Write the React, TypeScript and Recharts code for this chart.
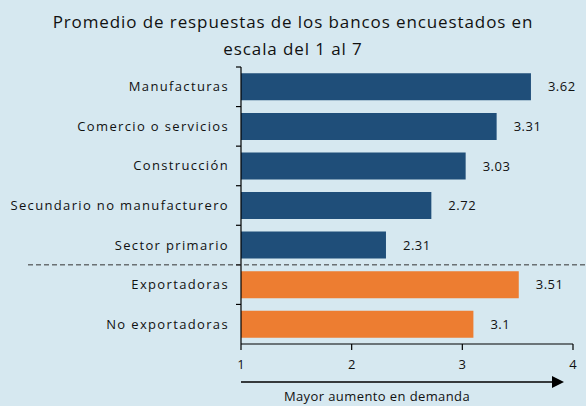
import { BarChart, Bar, XAxis, YAxis, Cell, LabelList } from 'recharts'

const categories = [
  'Manufacturas',
  'Comercio o servicios',
  'Construcción',
  'Secundario no manufacturero',
  'Sector primario',
  'Exportadoras',
  'No exportadoras',
]
const values = [3.62, 3.31, 3.03, 2.72, 2.31, 3.51, 3.1]
const groups = ['sector', 'sector', 'sector', 'sector', 'sector', 'export', 'export']
const xTicks = [1, 2, 3, 4]

const titleLines = ['Promedio de respuestas de los bancos encuestados en', 'escala del 1 al 7']
const xLabel = 'Mayor aumento  en demanda'

const GROUP_COLORS: Record<string, string> = {
  sector: '#1f4e79',
  export: '#ed7d31',
}

const FONT = '"Open Sans", Lato, sans-serif'
const W = 586
const H = 406
const TOP = 67
const BOTTOM = 62
const LEFT = 241
const RIGHT = 13
const BAND = (H - TOP - BOTTOM) / categories.length

const data = categories.map((name, i) => ({ name, value: values[i], group: groups[i] }))

// category label plus a small tick at the upper edge of each band
function CategoryTick(props: any) {
  const { x, y, payload, index } = props
  const half = payload?.offset || BAND / 2
  const edge = y - half
  return (
    <g>
      <line x1={x - 5} x2={x} y1={edge} y2={edge} stroke="#000" strokeWidth={1.2} />
      {index === 5 && (
        <line x1={28} x2={W} y1={edge} y2={edge} stroke="#333" strokeDasharray="5 3" strokeWidth={1} />
      )}
      <text
        x={x - 12}
        y={y}
        dy="0.35em"
        textAnchor="end"
        fontSize={13}
        fill="#111"
        fontFamily={FONT}
        letterSpacing={1.35}
      >
        {payload.value}
      </text>
    </g>
  )
}

function ArrowLabel(props: any) {
  const vb = props.viewBox || {}
  const x0 = vb.x ?? LEFT
  const y0 = (vb.y ?? H - BOTTOM) + 38
  const width = vb.width ?? W - LEFT - RIGHT
  const tip = x0 + width - 9
  return (
    <g>
      <line x1={x0} x2={tip - 10} y1={y0} y2={y0} stroke="#000" strokeWidth={1.5} />
      <polygon points={`${tip - 12},${y0 - 6} ${tip},${y0} ${tip - 12},${y0 + 6}`} fill="#000" />
      <text
        x={x0 + width / 2 - 30}
        y={y0 + 19}
        textAnchor="middle"
        fontSize={13}
        fill="#111"
        fontFamily={FONT}
        letterSpacing={0.4}
      >
        {xLabel}
      </text>
    </g>
  )
}

export default function App() {
  return (
    <div
      style={{
        position: 'absolute',
        left: 0,
        top: 0,
        width: W,
        height: H,
        background: '#d6e8f0',
        overflow: 'hidden',
        fontFamily: FONT,
      }}
    >
      <div
        style={{
          position: 'absolute',
          left: 0,
          top: 8,
          width: W,
          textAlign: 'center',
          fontSize: 17,
          lineHeight: '27px',
          letterSpacing: 0.9,
          color: '#111',
        }}
      >
        {titleLines.map((t) => (
          <div key={t}>{t}</div>
        ))}
      </div>
      <div style={{ position: 'absolute', left: 0, top: 0 }}>
        <BarChart
          width={W}
          height={H}
          data={data}
          layout="vertical"
          margin={{ top: TOP, right: RIGHT, left: 0, bottom: 0 }}
          barCategoryGap="16%"
        >
          <XAxis
            type="number"
            domain={[1, 4]}
            ticks={xTicks}
            allowDataOverflow
            height={BOTTOM}
            axisLine={{ stroke: '#000', strokeWidth: 1.2 }}
            tickLine={{ stroke: '#000', strokeWidth: 1.2 }}
            tickSize={6}
            tickMargin={10}
            tick={{ fontSize: 13, fill: '#111', fontFamily: FONT }}
            label={<ArrowLabel />}
          />
          <YAxis
            type="category"
            dataKey="name"
            width={LEFT}
            axisLine={{ stroke: '#000', strokeWidth: 1.2 }}
            tickLine={false}
            tickSize={0}
            tickMargin={0}
            interval={0}
            tick={<CategoryTick />}
          />
          <Bar dataKey="value" isAnimationActive={false}>
            {data.map((d) => (
              <Cell key={d.name} fill={GROUP_COLORS[d.group]} />
            ))}
            <LabelList
              dataKey="value"
              position="right"
              offset={17}
              style={{ fontSize: 13, fill: '#111', fontFamily: FONT, letterSpacing: 0.5 }}
            />
          </Bar>
        </BarChart>
      </div>
    </div>
  )
}
